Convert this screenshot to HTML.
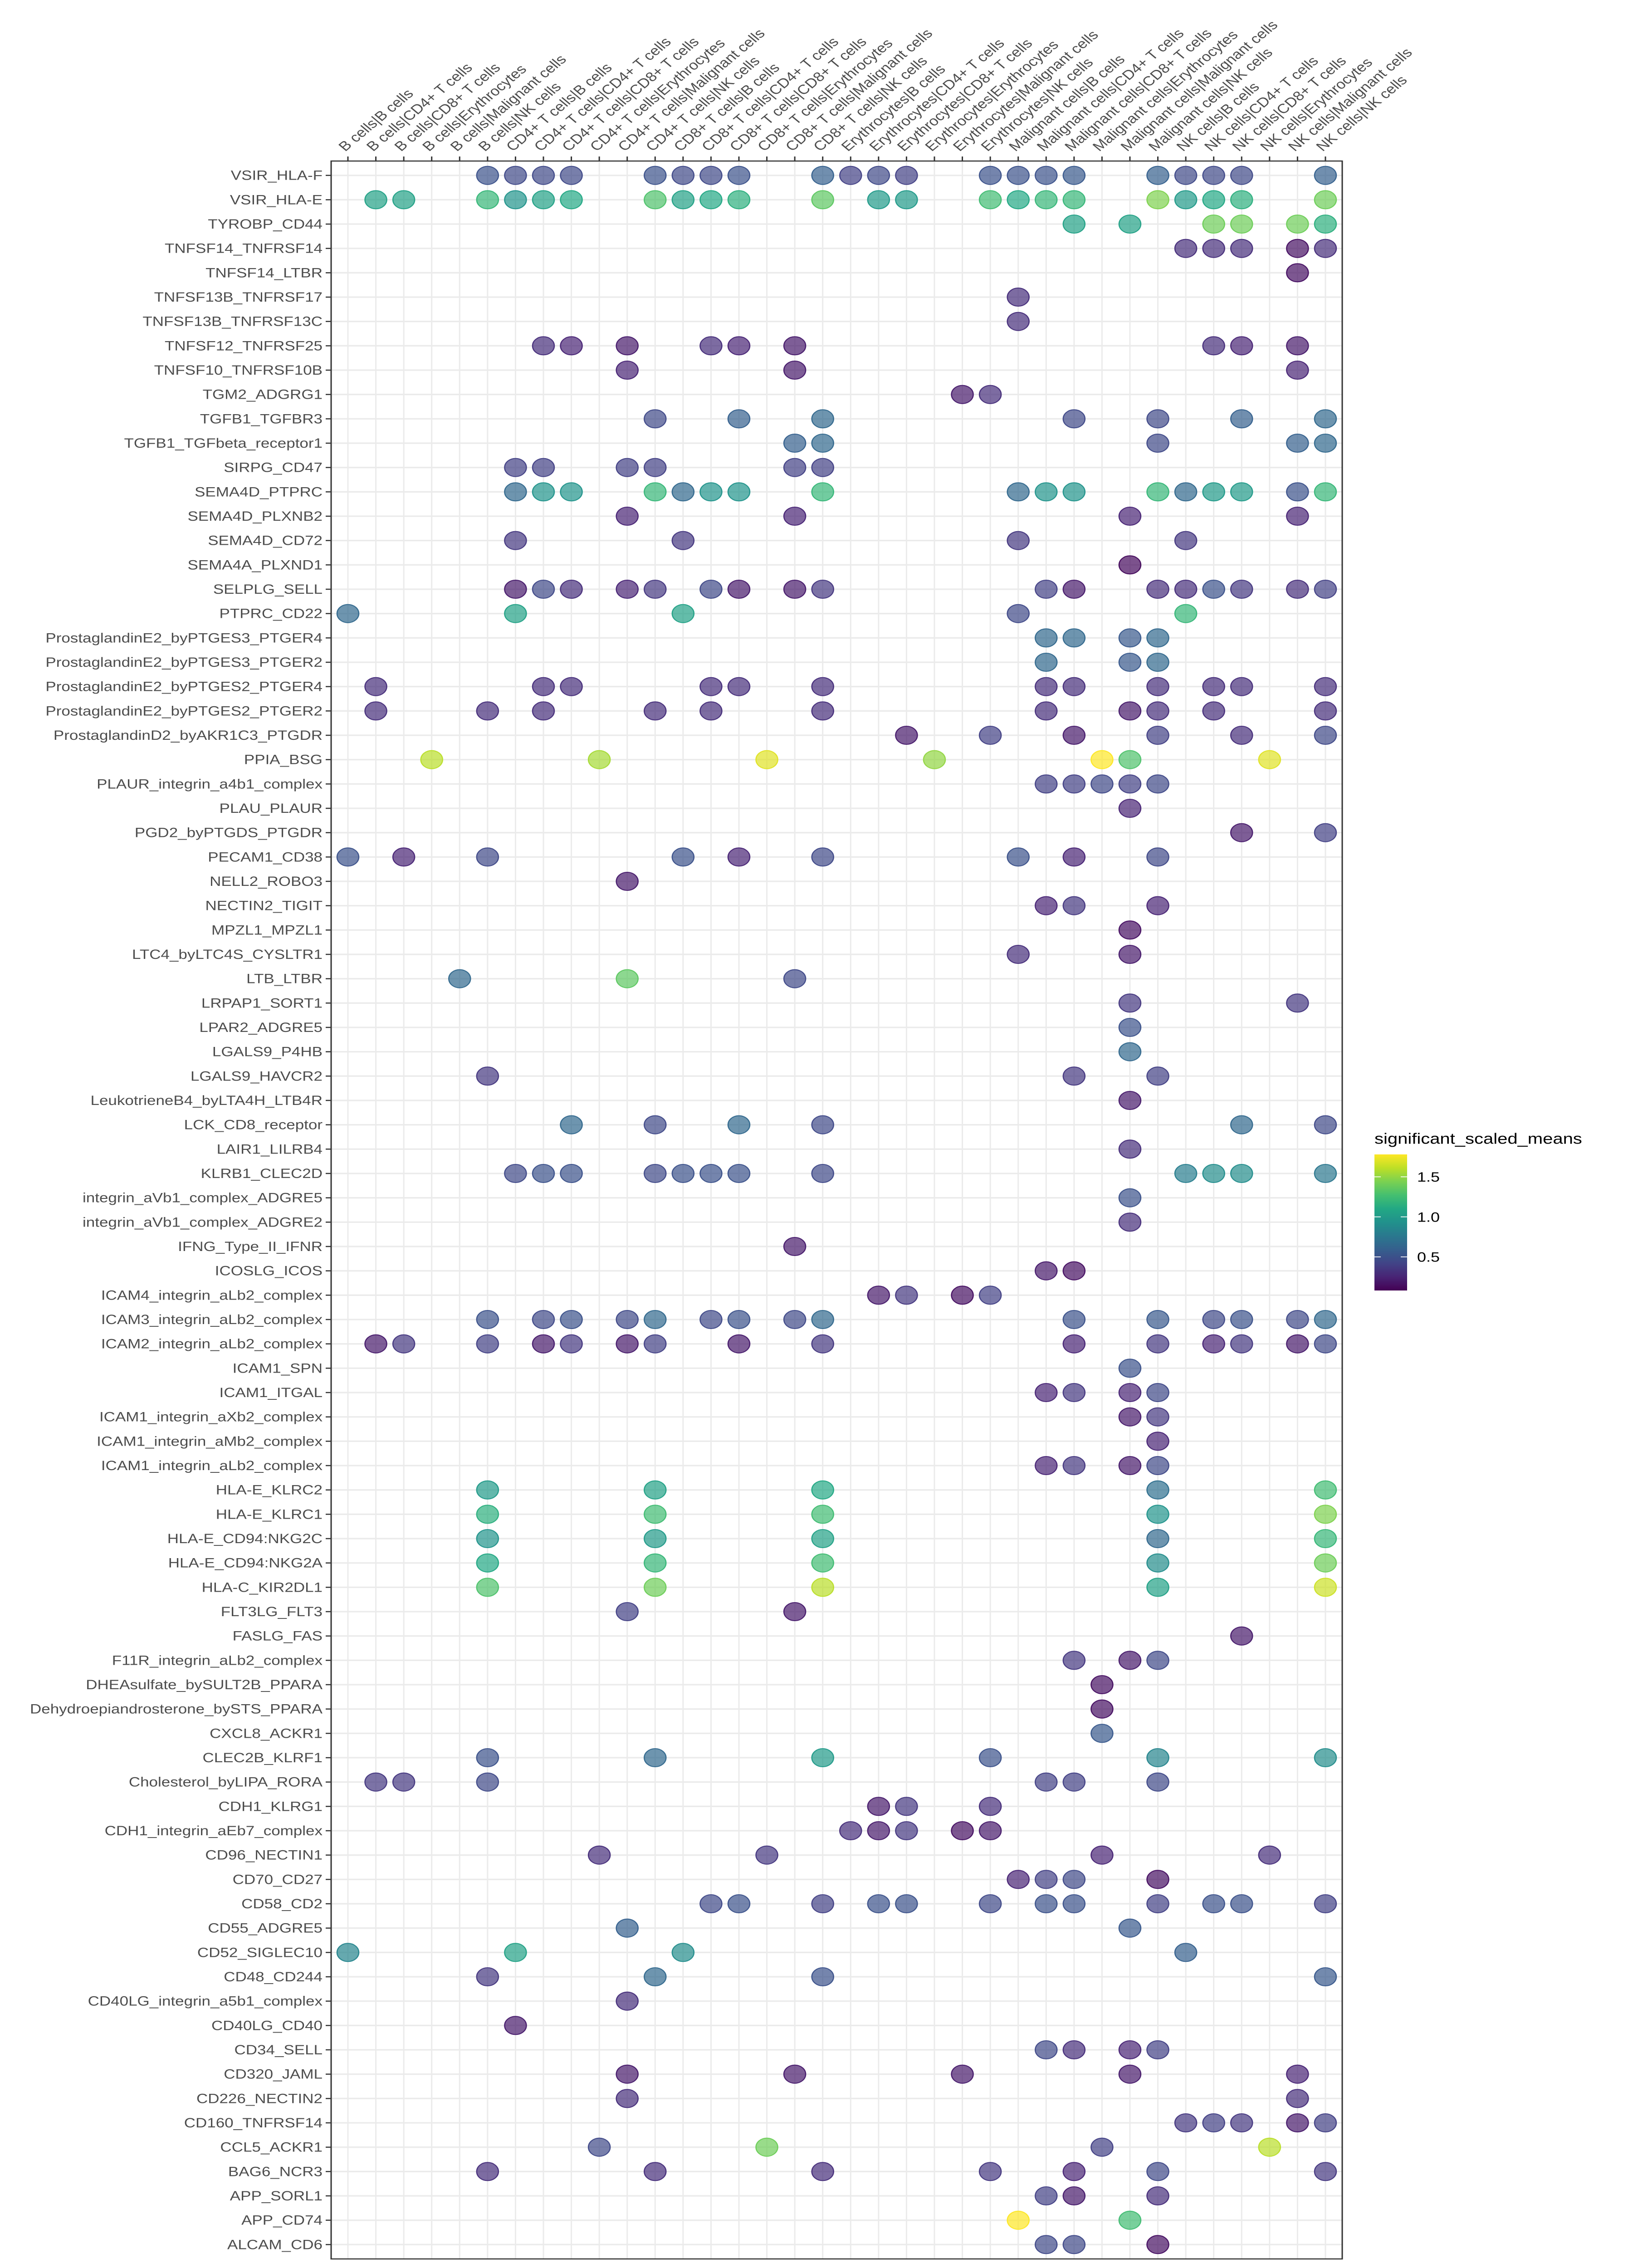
<!DOCTYPE html>
<html><head><meta charset="utf-8"><title>Significant scaled means dot plot</title>
<style>
html,body{margin:0;padding:0;background:#fff;width:100%;height:100%;overflow:hidden;}
svg{display:block;position:fixed;left:0;top:0;width:100vw;height:100vh;font-family:"Liberation Sans",Arial,sans-serif;}
</style></head>
<body>
<svg id="chart" xmlns="http://www.w3.org/2000/svg" viewBox="0 0 3600 6000" preserveAspectRatio="none">
<rect x="0" y="0" width="3600" height="6000" fill="#ffffff"/>
<g id="grid"></g>
<g id="dots"></g>
<rect x="730" y="426" width="2229" height="5550" fill="none" stroke="#333333" stroke-width="3"/>
<g id="xaxis"></g>
<g id="yaxis"></g>
<g id="legend">
  <text x="3030" y="3026" font-size="40" fill="#000">significant_scaled_means</text>
  <defs>
    <linearGradient id="vir" x1="0" y1="1" x2="0" y2="0">
      <stop offset="0" stop-color="#440154"/><stop offset="0.1" stop-color="#482475"/>
      <stop offset="0.2" stop-color="#414487"/><stop offset="0.3" stop-color="#355f8d"/>
      <stop offset="0.4" stop-color="#2a788e"/><stop offset="0.5" stop-color="#21918c"/>
      <stop offset="0.6" stop-color="#22a884"/><stop offset="0.7" stop-color="#44bf70"/>
      <stop offset="0.8" stop-color="#7ad151"/><stop offset="0.9" stop-color="#bddf26"/>
      <stop offset="1" stop-color="#fde725"/>
    </linearGradient>
  </defs>
  <rect x="3030" y="3054" width="72" height="360" fill="url(#vir)"/>
  <g id="legendTicks"></g>
</g>
</svg>
<script>
const cellPairs = ["B cells|B cells","B cells|CD4+ T cells","B cells|CD8+ T cells","B cells|Erythrocytes","B cells|Malignant cells","B cells|NK cells",
"CD4+ T cells|B cells","CD4+ T cells|CD4+ T cells","CD4+ T cells|CD8+ T cells","CD4+ T cells|Erythrocytes","CD4+ T cells|Malignant cells","CD4+ T cells|NK cells",
"CD8+ T cells|B cells","CD8+ T cells|CD4+ T cells","CD8+ T cells|CD8+ T cells","CD8+ T cells|Erythrocytes","CD8+ T cells|Malignant cells","CD8+ T cells|NK cells",
"Erythrocytes|B cells","Erythrocytes|CD4+ T cells","Erythrocytes|CD8+ T cells","Erythrocytes|Erythrocytes","Erythrocytes|Malignant cells","Erythrocytes|NK cells",
"Malignant cells|B cells","Malignant cells|CD4+ T cells","Malignant cells|CD8+ T cells","Malignant cells|Erythrocytes","Malignant cells|Malignant cells","Malignant cells|NK cells",
"NK cells|B cells","NK cells|CD4+ T cells","NK cells|CD8+ T cells","NK cells|Erythrocytes","NK cells|Malignant cells","NK cells|NK cells"];

const interactions = ["VSIR_HLA-F","VSIR_HLA-E","TYROBP_CD44","TNFSF14_TNFRSF14","TNFSF14_LTBR","TNFSF13B_TNFRSF17","TNFSF13B_TNFRSF13C","TNFSF12_TNFRSF25","TNFSF10_TNFRSF10B","TGM2_ADGRG1",
"TGFB1_TGFBR3","TGFB1_TGFbeta_receptor1","SIRPG_CD47","SEMA4D_PTPRC","SEMA4D_PLXNB2","SEMA4D_CD72","SEMA4A_PLXND1","SELPLG_SELL","PTPRC_CD22","ProstaglandinE2_byPTGES3_PTGER4",
"ProstaglandinE2_byPTGES3_PTGER2","ProstaglandinE2_byPTGES2_PTGER4","ProstaglandinE2_byPTGES2_PTGER2","ProstaglandinD2_byAKR1C3_PTGDR","PPIA_BSG","PLAUR_integrin_a4b1_complex","PLAU_PLAUR","PGD2_byPTGDS_PTGDR","PECAM1_CD38","NELL2_ROBO3",
"NECTIN2_TIGIT","MPZL1_MPZL1","LTC4_byLTC4S_CYSLTR1","LTB_LTBR","LRPAP1_SORT1","LPAR2_ADGRE5","LGALS9_P4HB","LGALS9_HAVCR2","LeukotrieneB4_byLTA4H_LTB4R","LCK_CD8_receptor",
"LAIR1_LILRB4","KLRB1_CLEC2D","integrin_aVb1_complex_ADGRE5","integrin_aVb1_complex_ADGRE2","IFNG_Type_II_IFNR","ICOSLG_ICOS","ICAM4_integrin_aLb2_complex","ICAM3_integrin_aLb2_complex","ICAM2_integrin_aLb2_complex","ICAM1_SPN",
"ICAM1_ITGAL","ICAM1_integrin_aXb2_complex","ICAM1_integrin_aMb2_complex","ICAM1_integrin_aLb2_complex","HLA-E_KLRC2","HLA-E_KLRC1","HLA-E_CD94:NKG2C","HLA-E_CD94:NKG2A","HLA-C_KIR2DL1","FLT3LG_FLT3",
"FASLG_FAS","F11R_integrin_aLb2_complex","DHEAsulfate_bySULT2B_PPARA","Dehydroepiandrosterone_bySTS_PPARA","CXCL8_ACKR1","CLEC2B_KLRF1","Cholesterol_byLIPA_RORA","CDH1_KLRG1","CDH1_integrin_aEb7_complex","CD96_NECTIN1",
"CD70_CD27","CD58_CD2","CD55_ADGRE5","CD52_SIGLEC10","CD48_CD244","CD40LG_integrin_a5b1_complex","CD40LG_CD40","CD34_SELL","CD320_JAML","CD226_NECTIN2",
"CD160_TNFRSF14","CCL5_ACKR1","BAG6_NCR3","APP_SORL1","APP_CD74","ALCAM_CD6"];

const rowCols = [
[6,7,8,9,12,13,14,15,18,19,20,21,24,25,26,27,30,31,32,33,36],
[2,3,6,7,8,9,12,13,14,15,18,20,21,24,25,26,27,30,31,32,33,36],
[27,29,32,33,35,36],
[31,32,33,35,36],
[35],[25],[25],
[8,9,11,14,15,17,32,33,35],
[11,17,35],
[23,24],
[12,15,18,27,30,33,36],
[17,18,30,35,36],
[7,8,11,12,17,18],
[7,8,9,12,13,14,15,18,25,26,27,30,31,32,33,35,36],
[11,17,29,35],
[7,13,25,31],
[29],
[7,8,9,11,12,14,15,17,18,26,27,30,31,32,33,35,36],
[1,7,13,25,31],
[26,27,29,30],
[26,29,30],
[2,8,9,14,15,18,26,27,30,32,33,36],
[2,6,8,12,14,18,26,29,30,32,36],
[21,24,27,30,33,36],
[4,10,16,22,28,29,34],
[26,27,28,29,30],
[29],
[33,36],
[1,3,6,13,15,18,25,27,30],
[11],
[26,27,30],
[29],
[25,29],
[5,11,17],
[29,35],
[29],[29],
[6,27,30],
[29],
[9,12,15,18,33,36],
[29],
[7,8,9,12,13,14,15,18,31,32,33,36],
[29],[29],[17],
[26,27],
[20,21,23,24],
[6,8,9,11,12,14,15,17,18,27,30,32,33,35,36],
[2,3,6,8,9,11,12,15,18,27,30,32,33,35,36],
[29],
[26,27,29,30],
[29,30],
[30],
[26,27,29,30],
[6,12,18,30,36],
[6,12,18,30,36],
[6,12,18,30,36],
[6,12,18,30,36],
[6,12,18,30,36],
[11,17],
[33],
[27,29,30],
[28],[28],[28],
[6,12,18,24,30,36],
[2,3,6,26,27,30],
[20,21,24],
[19,20,21,23,24],
[10,16,28,34],
[25,26,27,30],
[14,15,18,20,21,24,26,27,30,32,33,36],
[11,29],
[1,7,13,31],
[6,12,18,36],
[11],
[7],
[26,27,29,30],
[11,17,23,29,35],
[11,35],
[31,32,33,35,36],
[10,16,28,34],
[6,12,18,24,27,30,36],
[26,27,30],
[25,29],
[26,27,30]
];

const rowVals = [
[0.5,0.45,0.45,0.45,0.5,0.45,0.45,0.5,0.6,0.4,0.45,0.4,0.5,0.5,0.5,0.55,0.6,0.45,0.45,0.45,0.6],
[1.05,1.05,1.2,0.95,1.05,1.1,1.3,1.05,1.1,1.15,1.35,1.0,1.0,1.25,1.1,1.2,1.2,1.45,1.0,1.1,1.15,1.4],
[1.05,1.05,1.4,1.4,1.4,1.15],
[0.3,0.3,0.3,0.15,0.3],
[0.15],[0.3],[0.3],
[0.3,0.25,0.2,0.3,0.25,0.2,0.3,0.25,0.2],
[0.25,0.2,0.25],
[0.2,0.3],
[0.45,0.6,0.65,0.45,0.45,0.6,0.65],
[0.6,0.65,0.45,0.6,0.65],
[0.4,0.4,0.4,0.4,0.4,0.4],
[0.65,0.95,0.95,1.2,0.65,0.95,0.95,1.2,0.65,0.95,0.95,1.2,0.65,1.0,1.0,0.5,1.2],
[0.25,0.25,0.25,0.25],
[0.35,0.35,0.35,0.35],
[0.12],
[0.2,0.45,0.3,0.25,0.35,0.45,0.2,0.2,0.35,0.4,0.2,0.3,0.3,0.5,0.35,0.3,0.4],
[0.65,1.05,1.05,0.45,1.2],
[0.65,0.65,0.55,0.65],
[0.65,0.55,0.65],
[0.3,0.3,0.3,0.3,0.3,0.3,0.3,0.3,0.3,0.3,0.3,0.3],
[0.3,0.3,0.3,0.3,0.3,0.3,0.3,0.2,0.3,0.3,0.3],
[0.2,0.4,0.2,0.4,0.3,0.45],
[1.6,1.55,1.7,1.5,1.78,1.3,1.7],
[0.4,0.4,0.45,0.4,0.45],
[0.25],
[0.2,0.4],
[0.5,0.25,0.45,0.5,0.25,0.45,0.5,0.25,0.45],
[0.2],
[0.25,0.35,0.25],
[0.15],
[0.3,0.2],
[0.65,1.35,0.45],
[0.35,0.35],
[0.5],[0.65],
[0.35,0.35,0.4],
[0.2],
[0.65,0.45,0.65,0.45,0.65,0.45],
[0.3],
[0.45,0.5,0.5,0.45,0.5,0.5,0.5,0.45,0.8,0.9,0.9,0.75],
[0.5],[0.3],[0.2],
[0.2,0.15],
[0.2,0.35,0.15,0.4],
[0.5,0.45,0.5,0.45,0.65,0.45,0.5,0.45,0.65,0.5,0.55,0.45,0.5,0.45,0.65],
[0.2,0.35,0.4,0.2,0.35,0.2,0.4,0.2,0.35,0.25,0.35,0.25,0.35,0.2,0.45],
[0.5],
[0.25,0.35,0.25,0.45],
[0.2,0.35],
[0.25],
[0.25,0.35,0.2,0.45],
[1.0,1.05,1.1,0.7,1.25],
[1.15,1.25,1.25,0.95,1.45],
[0.95,1.0,1.05,0.65,1.2],
[1.1,1.2,1.25,0.9,1.4],
[1.3,1.4,1.6,1.05,1.65],
[0.4,0.2],
[0.2],
[0.35,0.2,0.45],
[0.15],[0.15],[0.55],
[0.5,0.65,1.0,0.5,0.85,0.9],
[0.35,0.35,0.45,0.4,0.4,0.45],
[0.2,0.35,0.3],
[0.3,0.2,0.35,0.15,0.2],
[0.3,0.35,0.25,0.3],
[0.25,0.4,0.45,0.15],
[0.45,0.5,0.4,0.5,0.5,0.45,0.5,0.5,0.4,0.5,0.5,0.4],
[0.6,0.55],
[0.85,1.05,0.9,0.6],
[0.35,0.65,0.5,0.55],
[0.3],
[0.2],
[0.45,0.3,0.25,0.4],
[0.2,0.2,0.2,0.2,0.25],
[0.3,0.3],
[0.35,0.4,0.35,0.2,0.4],
[0.45,1.4,0.4,1.6],
[0.3,0.3,0.3,0.35,0.25,0.45,0.35],
[0.4,0.2,0.3],
[1.78,1.25],
[0.45,0.45,0.15]
];

const legendTicks = [0.5, 1.0, 1.5];
const colorMin = 0.08, colorMax = 1.78;

const NS = "http://www.w3.org/2000/svg";
const panelLeft = 730, panelTop = 426, colStart = 767, colStep = 61.57, rowStart = 464, rowStep = 64.4;
function xPos(c){ return colStart + (c - 1) * colStep; }
function yPos(r){ return rowStart + r * rowStep; }
const vstops = ["#440154","#482475","#414487","#355f8d","#2a788e","#21918c","#22a884","#44bf70","#7ad151","#bddf26","#fde725"];
function hex2rgb(h){ return [parseInt(h.substr(1,2),16),parseInt(h.substr(3,2),16),parseInt(h.substr(5,2),16)]; }
function viridis(v){
  let t = (v - colorMin) / (colorMax - colorMin); t = Math.max(0, Math.min(1, t));
  const p = t * 10, i = Math.min(9, Math.floor(p)), f = p - i;
  const a = hex2rgb(vstops[i]), b = hex2rgb(vstops[i + 1]);
  return "rgb(" + a.map((x, k) => Math.round(x + (b[k] - x) * f)).join(",") + ")";
}
function mk(tag, attrs, parent){ const e = document.createElementNS(NS, tag); for (const k in attrs) e.setAttribute(k, attrs[k]); parent.appendChild(e); return e; }

const grid = document.getElementById("grid");
for (let c = 1; c <= cellPairs.length; c++) {
  const l = mk("line", {x1: xPos(c), x2: xPos(c), y1: panelTop, y2: 5976, stroke: "#ebebeb", "stroke-width": 3}, grid);
  
  
}
for (let r = 0; r < interactions.length; r++) {
  const l = mk("line", {x1: panelLeft, x2: 2959, y1: yPos(r), y2: yPos(r), stroke: "#ebebeb", "stroke-width": 4}, grid);
  
  
}

const xaxis = document.getElementById("xaxis");
cellPairs.forEach((lab, i) => {
  const x = xPos(i + 1);
  const tk = mk("line", {x1: x, x2: x, y1: 414, y2: 426, stroke: "#333", "stroke-width": 3}, xaxis);
  
  
  const t = mk("text", {x: x - 6, y: 402, "font-size": 35, fill: "#4d4d4d", transform: "rotate(-45 " + (x - 6) + " 402)"}, xaxis);
  t.textContent = lab;
  
  
});

const yaxis = document.getElementById("yaxis");
interactions.forEach((lab, r) => {
  const y = yPos(r);
  const tk = mk("line", {x1: 718, x2: 730, y1: y, y2: y, stroke: "#333", "stroke-width": 3}, yaxis);
  
  
  const t = mk("text", {x: 711, y: y + 12, "font-size": 35, fill: "#4d4d4d", "text-anchor": "end"}, yaxis);
  t.textContent = lab;
  
  
});

const dots = document.getElementById("dots");
rowCols.forEach((cols, r) => {
  cols.forEach((c, k) => {
    const v = rowVals[r][k];
    const col = viridis(v);
    const d = mk("circle", {cx: xPos(c), cy: yPos(r), r: 24, fill: col, "fill-opacity": 0.7, stroke: col, "stroke-opacity": 0.95, "stroke-width": 2.5}, dots);
    
    
    const tt = mk("title", {}, d);
    tt.textContent = interactions[r] + " / " + cellPairs[c - 1] + ": " + v;
  });
});

const lt = document.getElementById("legendTicks");
const barTop = 3054, barBottom = 3414;
function legY(v){ return barBottom - (v - colorMin) / (colorMax - colorMin) * (barBottom - barTop); }
legendTicks.forEach(v => {
  const y = legY(v);
  const a = mk("line", {x1: 3030, x2: 3044, y1: y, y2: y, stroke: "#fff", "stroke-width": 2}, lt);
  
  
  const b = mk("line", {x1: 3088, x2: 3102, y1: y, y2: y, stroke: "#fff", "stroke-width": 2}, lt);
  
  
  const t = mk("text", {x: 3124, y: y + 13, "font-size": 36, fill: "#000"}, lt);
  t.textContent = v.toFixed(1);
  
  
});
</script>
</body></html>
